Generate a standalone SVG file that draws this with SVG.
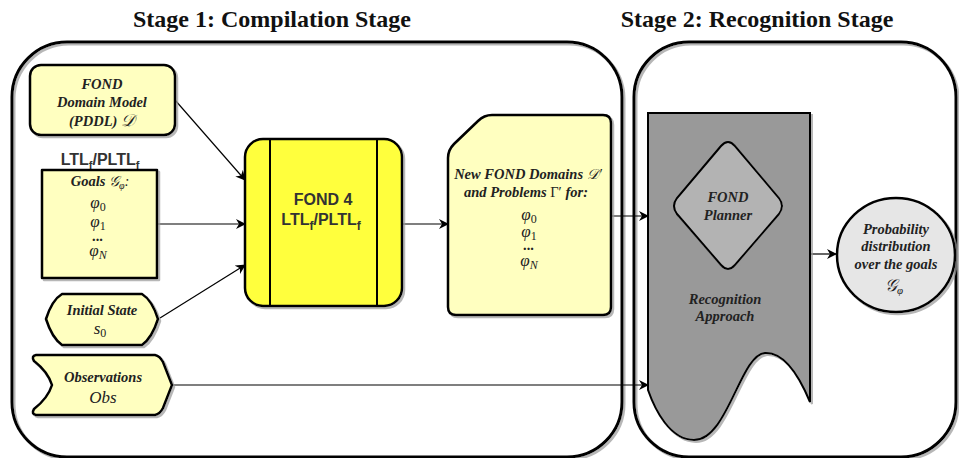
<svg xmlns="http://www.w3.org/2000/svg" width="959" height="458" viewBox="0 0 959 458">
<style>
.title{font-family:"Liberation Serif",serif;font-weight:bold;font-size:24px;fill:#111;text-anchor:middle}
.it{font-family:"Liberation Serif",serif;font-style:italic;font-weight:bold;font-size:14.5px;fill:#222;text-anchor:middle}
.m{font-family:"Liberation Serif","DejaVu Serif",serif;font-style:italic;font-size:17px;fill:#222;text-anchor:middle}
.sb{font-family:"Liberation Sans",sans-serif;font-weight:bold;font-size:16px;fill:#333;text-anchor:middle}
.cont{fill:none;stroke:#000;stroke-width:3}
.box{stroke:#000;stroke-width:2.5;stroke-linejoin:round}
.ly{fill:#ffffc0}
.conn{fill:none;stroke:#000;stroke-width:1.2}
</style>
<defs>
<marker id="ah" viewBox="0 0 10 10" refX="9" refY="5" markerWidth="10" markerHeight="10" markerUnits="userSpaceOnUse" orient="auto">
<path d="M0,0 L10,5 L0,10 L3,5 Z" fill="#000"/>
</marker>
<filter id="sh" x="-10%" y="-10%" width="120%" height="120%">
<feDropShadow dx="2" dy="2" stdDeviation="0.6" flood-color="#999" flood-opacity="0.7"/>
</filter>
</defs>

<text class="title" x="272" y="27">Stage 1: Compilation Stage</text>
<text class="title" x="757" y="27">Stage 2: Recognition Stage</text>

<g id="stage1">
<rect class="cont" x="12" y="42" width="610" height="415" rx="55" filter="url(#sh)"/>
</g>
<g id="stage2">
<rect class="cont" x="634" y="42" width="322" height="415" rx="55" filter="url(#sh)"/>
</g>

<g id="connectors">
<line class="conn" x1="175" y1="100" x2="245" y2="180" marker-end="url(#ah)"/>
<line class="conn" x1="157" y1="224" x2="245" y2="224" marker-end="url(#ah)"/>
<line class="conn" x1="160" y1="318" x2="245" y2="265" marker-end="url(#ah)"/>
<line class="conn" x1="402" y1="224" x2="448" y2="224" marker-end="url(#ah)"/>
<line class="conn" x1="612" y1="216" x2="648" y2="216" marker-end="url(#ah)"/>
<line class="conn" x1="172" y1="385" x2="648" y2="385" marker-end="url(#ah)"/>
<line class="conn" x1="810" y1="254" x2="836" y2="254" marker-end="url(#ah)"/>
</g>

<g id="domain">
<rect class="box ly" x="30" y="65" width="145" height="70" rx="11" filter="url(#sh)"/>
<text class="it" x="102" y="89">FOND</text>
<text class="it" x="102" y="107">Domain Model</text>
<text class="it" x="102" y="126">(PDDL) <tspan class="m" font-style="italic" font-weight="normal">𝒟</tspan></text>
</g>

<g id="goals">
<text class="sb" x="100" y="165">LTL<tspan font-size="11" dy="4">f</tspan><tspan dy="-4">/PLTL</tspan><tspan font-size="11" dy="4">f</tspan></text>
<rect class="box ly" x="42" y="170" width="115" height="108" stroke-width="3" filter="url(#sh)"/>
<text class="it" x="100" y="186">Goals <tspan font-weight="normal">𝒢<tspan font-size="10" dy="3">φ</tspan><tspan dy="-3">:</tspan></tspan></text>
<text class="m" x="98" y="208">φ<tspan font-style="normal" font-size="12" dy="3">0</tspan></text>
<text class="m" x="98" y="227">φ<tspan font-style="normal" font-size="12" dy="3">1</tspan></text>
<text class="it" x="98" y="241">...</text>
<text class="m" x="98" y="256">φ<tspan font-size="12" dy="3">N</tspan></text>
</g>

<g id="initial">
<path class="box ly" d="M46,319 Q52,300 62,294 L142,294 Q152,300 158,319 Q152,338 142,345 L62,345 Q52,338 46,319 Z" filter="url(#sh)"/>
<text class="it" x="102" y="315">Initial State</text>
<text class="m" x="100" y="334">s<tspan font-style="normal" font-size="12" dy="3">0</tspan></text>
</g>

<g id="obs">
<path class="box ly" d="M36,355 L155,355 Q160,356 163,362 L172,385 L163,408 Q160,414 155,415 L36,415 Q31,414 34,409 Q48,398 52,385 Q48,372 34,361 Q31,356 36,355 Z" filter="url(#sh)"/>
<text class="it" x="103" y="382">Observations</text>
<text class="m" x="103" y="403" font-size="18">Obs</text>
</g>

<g id="fond4">
<rect class="box" x="245" y="139" width="157" height="167" rx="18" fill="#ffff3c" filter="url(#sh)"/>
<line x1="270" y1="139" x2="270" y2="306" stroke="#000" stroke-width="2"/>
<line x1="377" y1="139" x2="377" y2="306" stroke="#000" stroke-width="2"/>
<text class="sb" x="323" y="205" font-size="17">FOND 4</text>
<text class="sb" x="321" y="225" font-size="17">LTL<tspan font-size="12" dy="5">f</tspan><tspan dy="-5">/PLTL</tspan><tspan font-size="12" dy="5">f</tspan></text>
</g>

<g id="newdomains">
<path class="box ly" d="M456,315 Q448,315 448,307 L448,158 Q448,150 454,144 L478,121 Q484,115 492,115 L603,115 Q611,115 611,123 L611,307 Q611,315 603,315 Z" filter="url(#sh)"/>
<text class="it" x="528" y="179">New FOND Domains <tspan font-weight="normal">𝒟′</tspan></text>
<text class="it" x="526" y="197">and Problems <tspan font-weight="normal" font-style="normal">Γ′</tspan> for:</text>
<text class="m" x="529" y="220">φ<tspan font-style="normal" font-size="12" dy="3">0</tspan></text>
<text class="m" x="529" y="237">φ<tspan font-style="normal" font-size="12" dy="3">1</tspan></text>
<text class="it" x="529" y="250">...</text>
<text class="m" x="529" y="266">φ<tspan font-size="12" dy="3">N</tspan></text>
</g>

<g id="recognition">
<path d="M648,113 L810,113 L810,402 C800,378 785,352 765,353 C740,355 728,440 694,440 C670,440 655,410 648,390 Z" fill="#999" stroke="#000" stroke-width="2" filter="url(#sh)"/>
<text class="it" x="725" y="304" fill="#222">Recognition</text>
<text class="it" x="725" y="321">Approach</text>
</g>

<g id="planner">
<path d="M721,146 Q728,138 735,146 L779,198 Q785,206 779,214 L735,265 Q728,273 721,265 L677,214 Q671,206 677,198 Z" fill="#b3b3b3" stroke="#000" stroke-width="2" filter="url(#sh)"/>
<text class="it" x="728" y="202" fill="#333">FOND</text>
<text class="it" x="728" y="220" fill="#333">Planner</text>
</g>

<g id="prob">
<ellipse cx="896" cy="255" rx="59" ry="57" fill="#e6e6e6" stroke="#000" stroke-width="2.5" filter="url(#sh)"/>
<text class="it" x="896" y="234">Probability</text>
<text class="it" x="896" y="251">distribution</text>
<text class="it" x="896" y="269">over the goals</text>
<text class="m" x="894" y="291">𝒢<tspan font-size="11" dy="3">φ</tspan></text>
</g>
</svg>
